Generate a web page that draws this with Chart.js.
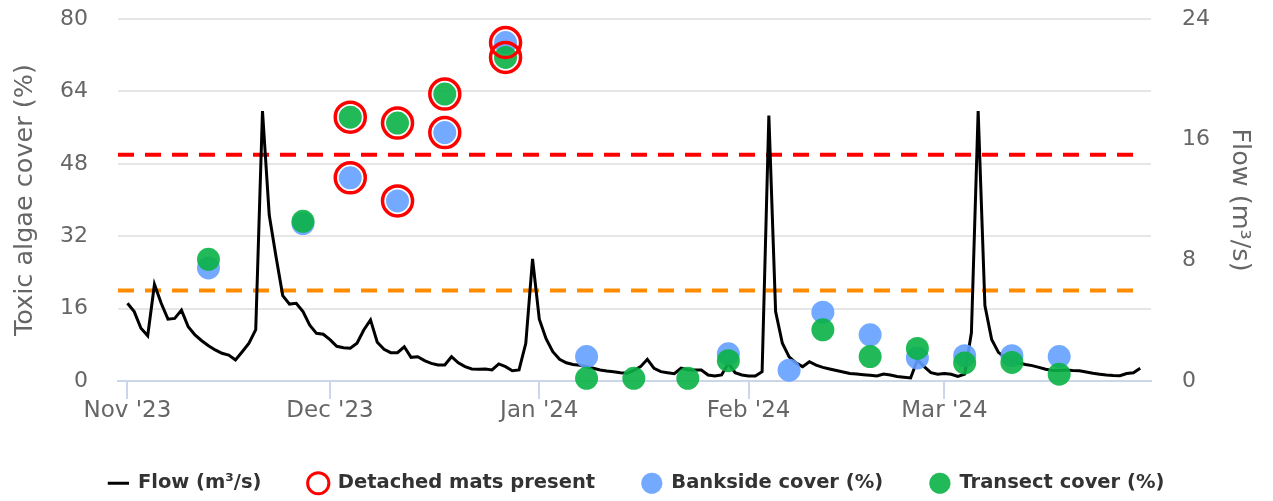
<!DOCTYPE html>
<html>
<head>
<meta charset="utf-8">
<script src="https://cdn.jsdelivr.net/npm/chart.js@4.4.1/dist/chart.umd.min.js"></script>
<style>
  html, body { margin: 0; padding: 0; background: #fff; }
</style>
</head>
<body>
<canvas id="algaeChart" width="1273" height="501"></canvas>
<script>
// daily flow from 1 Nov 2023 (m3/s)
const flowStart = '2023-11-01';
const flowValues = [
  5.15, 4.6, 3.5, 3.0, 6.4, 5.15, 4.1, 4.15, 4.7, 3.6,
  3.05, 2.67, 2.34, 2.06, 1.84, 1.72, 1.39, 1.94, 2.5, 3.4,
  17.9, 11.0, 8.25, 5.66, 5.1, 5.15, 4.6, 3.7, 3.16, 3.1,
  2.74, 2.3, 2.2, 2.17, 2.5, 3.38, 4.05, 2.57, 2.1, 1.88,
  1.88, 2.27, 1.57, 1.61, 1.35, 1.17, 1.06, 1.06, 1.61, 1.21,
  0.95, 0.8, 0.78, 0.8, 0.73, 1.13, 0.95, 0.68, 0.73, 2.5,
  8.1, 4.1, 2.8, 1.94, 1.44, 1.21, 1.1, 1.04, 0.95, 0.84,
  0.73, 0.66, 0.62, 0.55, 0.51, 0.7, 0.95, 1.44, 0.84, 0.62,
  0.55, 0.48, 0.85, 0.75, 0.73, 0.73, 0.4, 0.33, 0.4, 1.17,
  0.55, 0.4, 0.33, 0.33, 0.62, 17.6, 4.6, 2.5, 1.6, 1.2,
  0.95, 1.28, 1.05, 0.9, 0.8, 0.7, 0.6, 0.5, 0.46, 0.42,
  0.38, 0.33, 0.46, 0.4, 0.3, 0.25, 0.2, 1.4, 0.95, 0.55,
  0.45, 0.5, 0.45, 0.3, 0.45, 3.2, 17.9, 5.0, 2.75, 1.9,
  1.55, 1.35, 1.2, 1.1, 1.02, 0.9, 0.78, 0.7, 0.7, 0.73,
  0.7, 0.68, 0.6, 0.51, 0.45, 0.4, 0.37, 0.35, 0.5, 0.55,
  0.85
];

// survey visits
const sampleDates = [
  '2023-11-13', '2023-11-27', '2023-12-04', '2023-12-11', '2023-12-18', '2023-12-27',
  '2024-01-08', '2024-01-15', '2024-01-23', '2024-01-29', '2024-02-07', '2024-02-12',
  '2024-02-19', '2024-02-26', '2024-03-04', '2024-03-11', '2024-03-18'
];
const banksideCover = [25.0, 34.8, 44.9, 39.8, 54.9, 74.8, 5.4, null, null, 6.0, 2.4, 15.2, 10.2, 5.1, 5.6, 5.6, 5.4];
const transectCover = [26.9, 35.3, 58.3, 57.0, 63.4, 71.5, 0.6, 0.6, 0.6, 4.5, null, 11.3, 5.4, 7.2, 4.0, 4.1, 1.5];
const matsPresent = [false, false, true, true, true, true, false, false, false, false, false, false, false, false, false, false, false];

const redAlert = 50;
const amberAlert = 20;

const tickDates = ['2023-11-01', '2023-12-01', '2024-01-01', '2024-02-01', '2024-03-01'];
const tickLabels = ["Nov '23", "Dec '23", "Jan '24", "Feb '24", "Mar '24"];

const DAY = 86400000;
const origin = Date.parse(flowStart);
const dayOf = (d) => (Date.parse(d) - origin) / DAY;

const flowPoints = flowValues.map((v, i) => ({ x: dayOf(flowStart) + i, y: v }));
const toPoints = (vals) => sampleDates
  .map((d, i) => ({ x: dayOf(d), y: vals[i] }))
  .filter(p => p.y !== null);
const matsPoints = [];
sampleDates.forEach((d, i) => {
  if (!matsPresent[i]) return;
  [banksideCover[i], transectCover[i]].forEach(v => {
    if (v !== null) matsPoints.push({ x: dayOf(d), y: v });
  });
});

const xMin = dayOf('2023-11-01') - 1.4;
const xMax = dayOf('2024-03-31') + 0.6;
const lastFlowDay = flowPoints[flowPoints.length - 1].x;
const tickDays = tickDates.map(dayOf);

const FONT = 'DejaVu Sans';
const BLUE = 'rgba(100, 160, 255, 0.9)';
const GREEN = 'rgba(10, 178, 70, 0.9)';
const NONE = 'rgba(0,0,0,0)';
const LEGEND_PAD = 47;
const LEGEND_H = LEGEND_PAD + 27.5;

// keep the legend short while still spacing the items apart
const legendHeight = {
  id: 'legendHeight',
  beforeUpdate(chart) {
    const legend = chart.legend;
    if (!legend || legend._patched) return;
    const fit = legend.fit;
    legend.fit = function () {
      fit.call(this);
      this.height = LEGEND_H;
    };
    legend._patched = true;
  }
};

const ctx = document.getElementById('algaeChart').getContext('2d');

new Chart(ctx, {
  type: 'scatter',
  data: {
    datasets: [
      {
        label: 'Flow (m³/s)',
        data: flowPoints,
        yAxisID: 'y1',
        showLine: true,
        borderColor: '#000',
        borderWidth: 3,
        pointRadius: 0,
        tension: 0,
        order: 3,
      },
      {
        label: 'Detached mats present',
        data: matsPoints,
        yAxisID: 'y',
        pointRadius: 15,
        borderWidth: 3.5,
        borderColor: '#ff0000',
        backgroundColor: NONE,
        order: 0,
      },
      {
        label: 'Bankside cover (%)',
        data: toPoints(banksideCover),
        yAxisID: 'y',
        pointRadius: 11.5,
        borderWidth: 0,
        backgroundColor: BLUE,
        order: 2,
      },
      {
        label: 'Transect cover (%)',
        data: toPoints(transectCover),
        yAxisID: 'y',
        pointRadius: 11.5,
        borderWidth: 0,
        backgroundColor: GREEN,
        order: 1,
      },
      {
        label: 'red',
        data: [{ x: xMin, y: redAlert }, { x: lastFlowDay, y: redAlert }],
        yAxisID: 'y',
        showLine: true,
        borderColor: '#ff0000',
        borderWidth: 4,
        borderDash: [16, 11],
        pointRadius: 0,
        order: 4,
      },
      {
        label: 'amber',
        data: [{ x: xMin, y: amberAlert }, { x: lastFlowDay, y: amberAlert }],
        yAxisID: 'y',
        showLine: true,
        borderColor: '#ff8c00',
        borderWidth: 4,
        borderDash: [16, 11],
        pointRadius: 0,
        order: 4,
      },
    ],
  },
  options: {
    responsive: false,
    animation: false,
    events: [],
    clip: false,
    layout: { padding: { top: 19, left: 0, right: 0, bottom: 0 } },
    scales: {
      x: {
        type: 'linear',
        min: xMin,
        max: xMax,
        afterBuildTicks: (scale) => {
          scale.ticks = tickDays.map(v => ({ value: v }));
        },
        afterFit: (scale) => {
          scale.height = 501 - 381 - LEGEND_H;
        },
        ticks: {
          autoSkip: false,
          maxRotation: 0,
          padding: -2,
          color: '#666',
          font: { family: FONT, size: 23 },
          callback: (value, index) => tickLabels[index],
        },
        grid: {
          drawOnChartArea: false,
          drawTicks: true,
          tickLength: 18,
          color: '#ccd6eb',
          lineWidth: 2,
        },
        border: { display: true, color: '#ccd6eb', width: 2 },
      },
      y: {
        position: 'left',
        min: 0,
        max: 80,
        afterFit: (scale) => { scale.width = 118; },
        ticks: {
          stepSize: 16,
          padding: 2,
          color: '#666',
          font: { family: FONT, size: 22 },
        },
        grid: { color: '#e6e6e6', lineWidth: 2, drawTicks: true, tickLength: 28, tickColor: NONE },
        border: { display: false },
        title: {
          display: true,
          text: 'Toxic algae cover (%)',
          color: '#666',
          font: { family: FONT, size: 25.5, lineHeight: 1.2 },
          padding: { top: 10, bottom: 0 },
        },
      },
      y1: {
        position: 'right',
        min: 0,
        max: 24,
        afterFit: (scale) => { scale.width = 122; },
        ticks: {
          stepSize: 8,
          padding: 2,
          color: '#666',
          font: { family: FONT, size: 22 },
        },
        grid: { drawOnChartArea: false, drawTicks: true, tickLength: 29, tickColor: NONE },
        border: { display: false },
        title: {
          display: true,
          text: 'Flow (m³/s)',
          color: '#666',
          font: { family: FONT, size: 25.5, lineHeight: 1.2 },
          padding: { top: 18, bottom: 0 },
        },
      },
    },
    plugins: {
      tooltip: { enabled: false },
      legend: {
        position: 'bottom',
        labels: {
          usePointStyle: true,
          boxWidth: 19.5,
          boxHeight: 15,
          padding: LEGEND_PAD,
          color: '#333',
          font: { family: FONT, size: 19.5, weight: 'bold' },
          generateLabels: (chart) => chart.data.datasets.slice(0, 4).map((ds, i) => ({
            text: ds.label,
            datasetIndex: i,
            hidden: false,
            fontColor: '#333',
            pointStyle: i === 0 ? 'line' : 'circle',
            fillStyle: i === 0 ? '#000' : ds.backgroundColor,
            strokeStyle: i === 0 ? '#000' : (i === 1 ? '#ff0000' : ds.backgroundColor),
            lineWidth: i === 0 ? 3 : (i === 1 ? 3 : 0),
          })),
        },
      },
    },
  },
  plugins: [legendHeight],
});
</script>
</body>
</html>
